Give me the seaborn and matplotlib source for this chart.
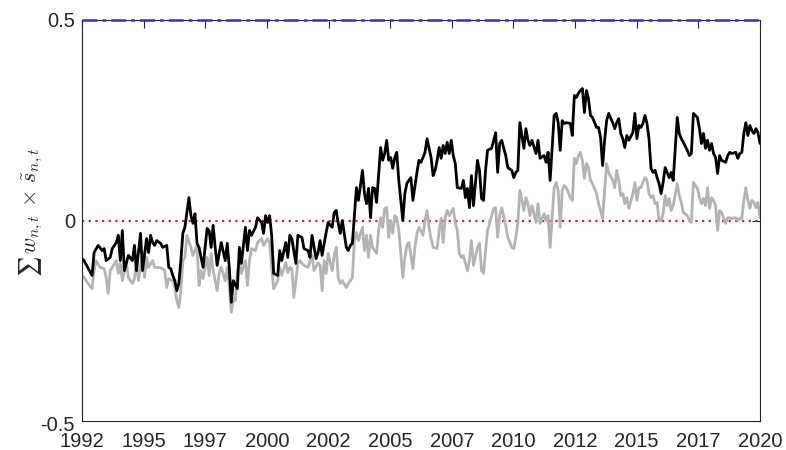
import numpy as np
import pandas as pd
import matplotlib
matplotlib.use("Agg")
import matplotlib.pyplot as plt
import matplotlib.transforms as mtransforms
import seaborn as sns

# Monthly index counted from January 1992, and the weighted-sum series
black_months = [0, 1, 5, 6, 8, 10, 11, 12, 14, 15, 17, 18, 19, 20, 21, 23, 25, 26, 27, 29,
                30, 32, 33, 34, 35, 36, 37, 39, 40, 42, 43, 44, 45, 46, 47, 48, 49, 50, 51, 53,
                54, 55, 56, 57, 58, 60, 62, 63, 64, 65, 66, 67, 68, 69, 71, 72, 73, 74, 75, 77,
                78, 79, 81, 82, 83, 84, 86, 87, 89, 90, 91, 92, 93, 94, 95, 97, 98, 99, 101, 102,
                103, 104, 106, 107, 109, 110, 112, 113, 114, 116, 117, 118, 119, 121, 122, 124, 125, 126, 127, 128,
                129, 131, 132, 133, 134, 136, 137, 139, 140, 141, 142, 143, 144, 145, 146, 148, 149, 150, 151, 152,
                153, 154, 155, 156, 157, 159, 160, 161, 162, 163, 164, 166, 167, 168, 169, 170, 171, 173, 174, 175,
                176, 177, 178, 179, 180, 181, 182, 183, 184, 185, 186, 188, 189, 190, 191, 192, 193, 194, 195, 196,
                197, 198, 199, 200, 201, 203, 204, 205, 206, 207, 208, 210, 211, 213, 214, 215, 216, 217, 219, 220,
                221, 222, 223, 225, 226, 227, 229, 230, 231, 232, 233, 234, 235, 236, 237, 238, 239, 240, 242, 243,
                244, 245, 246, 247, 248, 249, 250, 251, 252, 253, 255, 256, 257, 258, 259, 260, 261, 263, 264, 265,
                266, 267, 268, 269, 270, 271, 273, 274, 275, 276, 277, 278, 279, 280, 281, 282, 283, 284, 285, 286,
                287, 288, 289, 290, 291, 292, 293, 295, 296, 297, 298, 300, 301, 302, 303, 305, 306, 307, 308, 309,
                310, 311, 312, 313, 314, 315, 316, 317, 319, 320, 321, 322, 324, 325, 326, 327, 328, 329, 330, 331,
                332, 333, 334, 335, 336]
black_values = [-0.095, -0.100, -0.137, -0.080, -0.062, -0.075, -0.070, -0.100, -0.092, -0.070,
                -0.055, -0.037, -0.100, -0.025, -0.125, -0.087, -0.100, -0.062, -0.125, -0.032,
                -0.125, -0.045, -0.080, -0.037, -0.055, -0.062, -0.050, -0.057, -0.067, -0.062,
                -0.117, -0.120, -0.137, -0.150, -0.175, -0.157, -0.100, -0.032, -0.017, 0.057,
                0.012, -0.007, 0.017, -0.057, -0.067, -0.117, -0.020, -0.025, -0.067, -0.012,
                -0.067, -0.112, -0.082, -0.055, -0.100, -0.057, -0.117, -0.204, -0.150, -0.170,
                -0.067, -0.107, -0.017, -0.075, -0.025, -0.037, -0.017, 0.007, -0.005, -0.032,
                0.012, -0.005, 0.012, -0.037, -0.132, -0.137, -0.075, -0.100, -0.055, -0.092,
                -0.037, -0.045, -0.107, -0.037, -0.042, -0.070, -0.075, -0.092, -0.037, -0.095,
                -0.080, -0.050, -0.087, -0.030, -0.005, -0.017, 0.020, 0.025, -0.007, -0.032,
                0.000, -0.067, -0.075, -0.062, -0.057, 0.082, 0.050, 0.125, 0.067, 0.042,
                0.080, 0.007, 0.082, 0.080, 0.045, 0.182, 0.150, 0.167, 0.200, 0.150,
                0.157, 0.130, 0.157, 0.170, 0.100, 0.000, 0.067, 0.092, 0.100, 0.107,
                0.050, 0.120, 0.150, 0.145, 0.157, 0.170, 0.204, 0.157, 0.112, 0.125,
                0.150, 0.182, 0.155, 0.187, 0.167, 0.195, 0.167, 0.200, 0.162, 0.142,
                0.082, 0.080, 0.100, 0.057, 0.080, 0.032, 0.112, 0.037, 0.092, 0.150,
                0.125, 0.055, 0.050, 0.125, 0.175, 0.180, 0.200, 0.219, 0.120, 0.192,
                0.200, 0.162, 0.132, 0.125, 0.107, 0.120, 0.125, 0.244, 0.180, 0.229,
                0.200, 0.187, 0.200, 0.167, 0.200, 0.155, 0.162, 0.145, 0.170, 0.100,
                0.180, 0.262, 0.267, 0.244, 0.175, 0.249, 0.242, 0.244, 0.242, 0.212,
                0.312, 0.307, 0.317, 0.324, 0.329, 0.269, 0.324, 0.304, 0.262, 0.257,
                0.232, 0.232, 0.207, 0.137, 0.200, 0.249, 0.267, 0.244, 0.229, 0.244,
                0.254, 0.217, 0.204, 0.182, 0.212, 0.200, 0.219, 0.267, 0.204, 0.237,
                0.232, 0.242, 0.262, 0.242, 0.204, 0.130, 0.120, 0.125, 0.107, 0.092,
                0.067, 0.095, 0.132, 0.120, 0.107, 0.120, 0.100, 0.257, 0.217, 0.204,
                0.195, 0.175, 0.162, 0.167, 0.267, 0.257, 0.229, 0.192, 0.217, 0.180,
                0.200, 0.175, 0.192, 0.167, 0.157, 0.117, 0.162, 0.150, 0.145, 0.162,
                0.170, 0.167, 0.170, 0.155, 0.167, 0.170, 0.217, 0.244, 0.212, 0.237,
                0.224, 0.217, 0.229, 0.219, 0.192]

gray_months = [0, 1, 3, 5, 6, 7, 9, 11, 12, 13, 14, 15, 17, 18, 19, 20, 22, 23, 25, 26,
               27, 28, 30, 31, 32, 33, 35, 36, 38, 40, 41, 42, 43, 45, 46, 47, 48, 49, 50, 51,
               52, 54, 55, 57, 58, 59, 60, 62, 63, 64, 65, 67, 68, 69, 71, 72, 73, 74, 75, 76,
               77, 78, 79, 81, 82, 83, 84, 86, 87, 89, 90, 92, 93, 94, 95, 97, 98, 99, 101, 102,
               103, 104, 105, 107, 108, 109, 110, 112, 114, 115, 117, 118, 119, 120, 121, 122, 124, 125, 126, 127,
               128, 129, 131, 132, 133, 134, 135, 136, 137, 139, 140, 141, 142, 143, 144, 146, 147, 148, 149, 150,
               151, 152, 153, 154, 155, 156, 157, 159, 160, 161, 162, 164, 165, 166, 167, 169, 170, 171, 172, 173,
               174, 176, 177, 178, 179, 180, 181, 182, 184, 185, 186, 187, 188, 189, 191, 192, 193, 194, 196, 197,
               198, 199, 200, 201, 203, 204, 205, 206, 207, 208, 210, 211, 213, 214, 215, 216, 217, 219, 220, 221,
               222, 223, 225, 226, 227, 229, 230, 231, 232, 233, 234, 235, 236, 237, 238, 239, 240, 242, 243, 244,
               245, 246, 247, 248, 249, 250, 251, 252, 253, 255, 256, 257, 258, 259, 260, 261, 263, 264, 265, 266,
               267, 268, 269, 270, 271, 273, 274, 275, 276, 277, 278, 279, 280, 281, 282, 283, 284, 285, 286, 287,
               288, 289, 290, 291, 292, 293, 295, 296, 297, 298, 300, 301, 302, 303, 305, 306, 307, 308, 309, 310,
               311, 312, 313, 314, 315, 316, 317, 319, 320, 321, 322, 324, 325, 326, 327, 328, 329, 330, 331, 332,
               333, 334, 335, 336]
gray_values = [-0.137, -0.142, -0.157, -0.170, -0.125, -0.100, -0.117, -0.120, -0.142, -0.182,
               -0.125, -0.117, -0.100, -0.132, -0.107, -0.150, -0.107, -0.142, -0.157, -0.145,
               -0.100, -0.150, -0.082, -0.142, -0.092, -0.117, -0.100, -0.117, -0.117, -0.120,
               -0.125, -0.167, -0.145, -0.150, -0.167, -0.200, -0.217, -0.175, -0.100, -0.092,
               -0.037, -0.067, -0.087, -0.062, -0.162, -0.125, -0.145, -0.092, -0.137, -0.082,
               -0.125, -0.175, -0.130, -0.117, -0.150, -0.117, -0.162, -0.229, -0.195, -0.200,
               -0.125, -0.100, -0.132, -0.100, -0.162, -0.100, -0.070, -0.075, -0.055, -0.045,
               -0.062, -0.045, -0.055, -0.117, -0.170, -0.150, -0.117, -0.137, -0.105, -0.130,
               -0.117, -0.120, -0.192, -0.107, -0.100, -0.107, -0.112, -0.117, -0.087, -0.125,
               -0.105, -0.112, -0.175, -0.100, -0.132, -0.082, -0.125, -0.087, -0.067, -0.142,
               -0.157, -0.150, -0.167, -0.157, -0.150, -0.142, -0.050, -0.030, -0.050, -0.017,
               -0.075, -0.037, -0.092, -0.037, -0.067, -0.082, -0.025, 0.007, -0.017, 0.030,
               0.032, -0.042, 0.000, -0.032, 0.012, 0.007, -0.025, -0.142, -0.092, -0.062,
               -0.055, -0.120, -0.067, -0.032, -0.017, -0.037, 0.000, 0.025, -0.017, -0.045,
               -0.067, -0.070, -0.025, 0.005, -0.055, 0.007, 0.025, 0.012, 0.030, -0.007,
               -0.025, -0.082, -0.092, -0.087, -0.125, -0.100, -0.050, -0.112, -0.067, -0.057,
               -0.125, -0.132, -0.075, -0.025, 0.012, 0.030, 0.032, -0.042, 0.012, 0.032,
               -0.012, -0.042, -0.067, -0.070, -0.042, -0.007, 0.075, 0.025, 0.057, 0.042,
               0.012, 0.037, -0.005, 0.042, -0.007, 0.017, 0.000, 0.012, -0.067, 0.007,
               0.082, 0.095, 0.075, -0.017, 0.075, 0.087, 0.082, 0.057, 0.050, 0.155,
               0.142, 0.162, 0.170, 0.150, 0.105, 0.142, 0.132, 0.100, 0.092, 0.067,
               0.042, 0.025, 0.005, 0.075, 0.142, 0.120, 0.100, 0.082, 0.125, 0.100,
               0.062, 0.067, 0.042, 0.057, 0.030, 0.067, 0.095, 0.050, 0.082, 0.082,
               0.095, 0.107, 0.100, 0.067, 0.057, 0.062, 0.042, 0.045, 0.000, 0.000,
               0.017, 0.062, 0.037, 0.055, 0.025, 0.037, 0.092, 0.062, 0.045, 0.020,
               0.012, 0.000, -0.005, 0.095, 0.080, 0.057, 0.042, 0.055, 0.037, 0.082,
               0.030, 0.057, 0.050, 0.037, -0.025, 0.025, 0.020, -0.007, 0.007, 0.007,
               0.005, 0.007, 0.000, 0.005, 0.005, 0.050, 0.082, 0.050, 0.030, 0.050,
               0.045, 0.032, 0.045, 0.007]

x_tick_labels = ["1992", "1995", "1997", "2000", "2002", "2005",
                 "2007", "2010", "2012", "2015", "2017", "2020"]
y_ticks = [-0.5, 0, 0.5]
y_tick_labels = ["-0.5", "0", "0.5"]

start_year = 1992
end_year = 2020

black_df = pd.DataFrame({"date": start_year + np.array(black_months) / 12.0,
                         "value": black_values})
gray_df = pd.DataFrame({"date": start_year + np.array(gray_months) / 12.0,
                        "value": gray_values})

sns.set_style("white")
plt.rcParams["font.family"] = ["Liberation Sans", "DejaVu Sans"]
plt.rcParams["mathtext.fontset"] = "cm"

fig = plt.figure(figsize=(7.86, 4.5), dpi=100)
ax = fig.add_axes([0.1043, 0.0644, 0.8626, 0.8912])

axis_color = "#262626"

# Reference levels
ax.axhline(0, color="#d62020", linestyle=(0, (1, 2)), linewidth=1.6, zorder=1)
ax.axhline(0.5, color="#3030d8", linestyle=(0, (6, 2, 1.5, 2)), linewidth=1.8,
           zorder=5, clip_on=False)

sns.lineplot(data=gray_df, x="date", y="value", ax=ax, color="#b3b3b3",
             linewidth=2.0, estimator=None, sort=True, zorder=2)
sns.lineplot(data=black_df, x="date", y="value", ax=ax, color="black",
             linewidth=2.0, estimator=None, sort=True, zorder=3)

ax.set_xlim(start_year, end_year)
ax.set_ylim(-0.5, 0.5)
ax.set_xticks(np.linspace(start_year, end_year, len(x_tick_labels)))
ax.set_xticklabels(x_tick_labels)
ax.set_yticks(y_ticks)
ax.set_yticklabels(y_tick_labels)

ax.tick_params(axis="both", direction="in", length=6, width=0.8,
               colors=axis_color, labelsize=14.5, top=True, right=True)
ax.tick_params(axis="x", pad=8)
ax.tick_params(axis="y", pad=5)
for side in ["left", "right", "top", "bottom"]:
    ax.spines[side].set_visible(True)
    ax.spines[side].set_color(axis_color)
    ax.spines[side].set_linewidth(0.8)

# nudge the lowest y label slightly down, as it sits just under the axis corner
offset = mtransforms.ScaledTranslation(0, -2 / 72, fig.dpi_scale_trans)
ylabels = ax.get_yticklabels()
ylabels[0].set_transform(ylabels[0].get_transform() + offset)

ax.set_xlabel("")
ax.set_ylabel("$\u2211" + r"\, w_{n,t}\, \times\, \tilde{s}_{n,t}$",
              fontsize=16, color=axis_color)
ax.yaxis.set_label_coords(-0.054, 0.52)

fig.savefig("out.png", dpi=100, facecolor="white")
